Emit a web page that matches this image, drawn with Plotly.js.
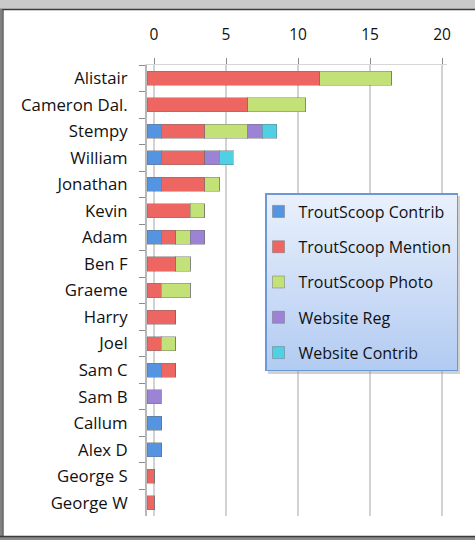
<!DOCTYPE html>
<html>
<head>
<meta charset="utf-8">
<script src="https://cdn.plot.ly/plotly-3.0.1.min.js"></script>
<style>html,body{margin:0;padding:0;background:#fff;}#chart{width:475px;height:540px;}</style>
</head>
<body>
<div id="chart"></div>
<script>
// ---- data ----
var people = ["Alistair","Cameron Dal.","Stempy","William","Jonathan","Kevin","Adam","Ben F","Graeme","Harry","Joel","Sam C","Sam B","Callum","Alex D","George S","George W"];
var seriesNames = ["TroutScoop Contrib","TroutScoop Mention","TroutScoop Photo","Website Reg","Website Contrib"];
var troutContrib  = [0,0,1,1,1,0,1,0,0,0,0,1,0,1,1,0,0];
var troutMention  = [12,7,3,3,3,3,1,2,1,2,1,1,0,0,0,0.5,0.5];
var troutPhoto    = [5,4,3,0,1,1,1,1,2,0,1,0,0,0,0,0,0];
var websiteReg    = [0,0,1,1,0,0,1,0,0,0,0,0,1,0,0,0,0];
var websiteContrib= [0,0,1,1,0,0,0,0,0,0,0,0,0,0,0,0,0];
var xTickVals = [0,5,10,15,20];

// ---- styles ----
var colors = ["#5494e0","#ee6661","#c2e176","#9c83d6","#4fd0e4"];
var seriesValues = [troutContrib, troutMention, troutPhoto, websiteReg, websiteContrib];
var FONT = "'Open Sans', Lato, sans-serif";

var W = 475, H = 540, L = 147, R = 28, T = 65, B = 24;
var PW = W - L - R, PH = H - T - B;
function px(x){ return (x - L) / PW; }
function py(y){ return (H - B - y) / PH; }

var traces = seriesNames.map(function(name, i){
  return {
    type: "bar", orientation: "h",
    name: name, y: people, x: seriesValues[i],
    xaxis: "x", yaxis: "y",
    legendgroup: "g" + i,
    marker: {color: colors[i], line: {color: "rgba(110,110,110,0.45)", width: 1}},
    hoverinfo: "x+name"
  };
});
traces.push({type:"scatter", x:[], y:[], xaxis:"x2", yaxis:"y", showlegend:false, hoverinfo:"skip"});

var unitPx = 14.4;
var barMax = PW / unitPx;
var wallShift = 7 / unitPx;

// legend box background (gradient + soft shadow)
var LB = {x: 265, y: 193, w: 192, h: 178};
var bgSvg = '<svg xmlns="http://www.w3.org/2000/svg" width="' + (LB.w + 4) + '" height="' + (LB.h + 4) + '">' +
  '<defs><linearGradient id="g" x1="0" y1="0" x2="0" y2="1">' +
  '<stop offset="0" stop-color="#eaf1fc"/><stop offset="1" stop-color="#b2cbf2"/></linearGradient></defs>' +
  '<rect x="3" y="3" width="' + LB.w + '" height="' + LB.h + '" fill="#9a9a9a" opacity="0.45"/>' +
  '<rect x="0" y="0" width="' + LB.w + '" height="' + LB.h + '" fill="url(#g)"/></svg>';
var bgUri = "data:image/svg+xml;charset=utf-8," + encodeURIComponent(bgSvg);

var layout = {
  width: W, height: H,
  margin: {l: L, r: R, t: T, b: B, pad: 0},
  paper_bgcolor: "#ffffff", plot_bgcolor: "rgba(0,0,0,0)",
  barmode: "stack", bargap: 0.47,
  font: {family: FONT, size: 15, color: "#111"},
  showlegend: true,
  legend: {
    x: px(LB.x), y: py(LB.y), xanchor: "left", yanchor: "top",
    traceorder: "grouped", tracegroupgap: 11.5,
    indentation: -8,
    bgcolor: "rgba(0,0,0,0)", bordercolor: "#6c98d6", borderwidth: 1.5,
    itemwidth: 30,
    font: {family: FONT, size: 16, color: "#111"}
  },
  images: [{
    source: bgUri, xref: "paper", yref: "paper",
    x: px(LB.x), y: py(LB.y), sizex: (LB.w + 4) / PW, sizey: (LB.h + 4) / PH,
    xanchor: "left", yanchor: "top", sizing: "stretch", layer: "above"
  }],
  xaxis: {
    range: [0, barMax], showgrid: false, zeroline: false, showticklabels: false,
    showline: false, ticks: "", fixedrange: true
  },
  xaxis2: {
    overlaying: "x", side: "top", anchor: "y",
    range: [-wallShift, barMax - wallShift],
    tickvals: xTickVals, ticktext: xTickVals.map(String),
    showgrid: true, gridcolor: "#d2d2d2", gridwidth: 2,
    zeroline: false, showline: true, linecolor: "#d6d6d6", linewidth: 1,
    ticks: "outside", ticklen: 6, tickcolor: "#8a8a8a", tickwidth: 1,
    ticklabelstandoff: 12,
    tickfont: {family: FONT, size: 15.5, color: "#111"}
  },
  yaxis: {
    type: "category", autorange: "reversed",
    showgrid: false, zeroline: false,
    showline: true, linecolor: "#b8b8b8", linewidth: 2,
    ticks: "outside", tickson: "boundaries", ticklen: 6, tickcolor: "#8a8a8a",
    ticklabelstandoff: 14,
    tickfont: {family: FONT, size: 16.8, color: "#111"}
  },
  shapes: [
    {type:"rect", xref:"paper", yref:"paper", x0:px(0), x1:px(W), y0:py(9), y1:py(0),
     fillcolor:"#c9c9c9", line:{width:0}, layer:"above"},
    {type:"line", xref:"paper", yref:"paper", x0:px(0), x1:px(W), y0:py(9.5), y1:py(9.5),
     line:{color:"#3a3a3a", width:1.5}, layer:"above"},
    {type:"rect", xref:"paper", yref:"paper", x0:px(0), x1:px(2.5), y0:py(H), y1:py(9),
     fillcolor:"#808080", line:{width:0}, layer:"above"},
    {type:"line", xref:"paper", yref:"paper", x0:px(3), x1:px(3), y0:py(H), y1:py(9.5),
     line:{color:"#3a3a3a", width:1.2}, layer:"above"},
    {type:"rect", xref:"paper", yref:"paper", x0:px(0), x1:px(W), y0:py(H), y1:py(537),
     fillcolor:"#8a8a8a", line:{width:0}, layer:"above"},
    {type:"line", xref:"paper", yref:"paper", x0:px(0), x1:px(W), y0:py(536.5), y1:py(536.5),
     line:{color:"#3a3a3a", width:1.5}, layer:"above"}
  ]
};

Plotly.newPlot("chart", traces, layout, {displayModeBar: false, staticPlot: true});
</script>
</body>
</html>
